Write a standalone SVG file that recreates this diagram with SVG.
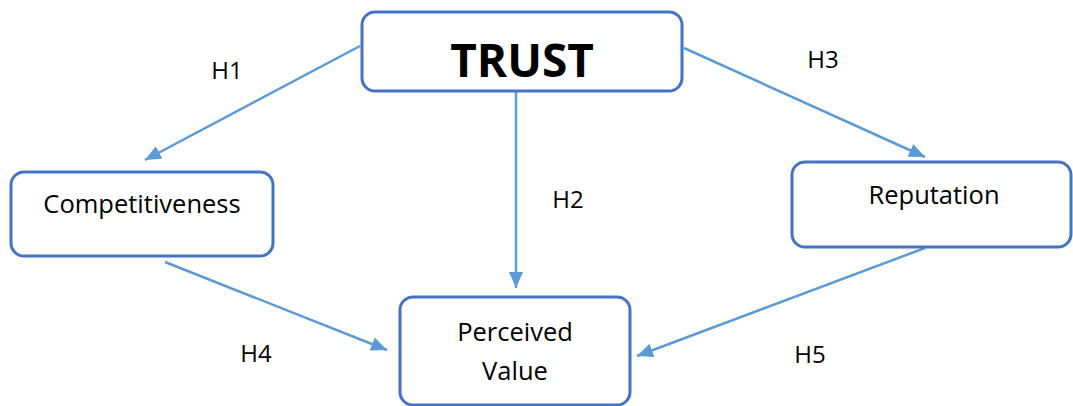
<svg xmlns="http://www.w3.org/2000/svg" width="1073" height="406" viewBox="0 0 1073 406">
<style>
.box{fill:#fff;stroke:#4472C4;stroke-width:3}
.lbl{font-family:"Open Sans","Liberation Sans",sans-serif;font-size:25.5px;fill:#000;text-anchor:middle}
.h{font-family:"Open Sans","Liberation Sans",sans-serif;font-size:24px;fill:#000;text-anchor:middle}
.conn{stroke:#5B9BD5;stroke-width:2.5;fill:none;marker-end:url(#ah)}
</style>
<defs>
<marker id="ah" markerUnits="userSpaceOnUse" markerWidth="18" markerHeight="16" refX="16" refY="7" orient="auto" viewBox="0 0 18 14">
<path d="M0,0 L16,7 L0,14 Z" fill="#5B9BD5"/>
</marker>
</defs>
<rect width="1073" height="406" fill="#fff"/>
<g id="connectors">
<line class="conn" x1="360" y1="46" x2="145" y2="160"/>
<line class="conn" x1="516" y1="92" x2="516" y2="288"/>
<line class="conn" x1="684" y1="48" x2="925" y2="157"/>
<line class="conn" x1="165" y1="262" x2="387" y2="350"/>
<line class="conn" x1="925" y1="248" x2="637" y2="356"/>
<text class="h" x="227" y="79">H1</text>
<text class="h" x="568" y="208">H2</text>
<text class="h" x="823" y="68">H3</text>
<text class="h" x="256" y="362">H4</text>
<text class="h" x="810" y="363">H5</text>
</g>
<g id="trust">
<rect class="box" x="362" y="12" width="320" height="79" rx="13"/>
<text x="522" y="77" font-family="'Open Sans','Liberation Sans',sans-serif" font-weight="bold" font-size="46" text-anchor="middle">TRUST</text>
</g>
<g id="competitiveness">
<rect class="box" x="11" y="172" width="262" height="84" rx="13"/>
<text class="lbl" x="142" y="213">Competitiveness</text>
</g>
<g id="reputation">
<rect class="box" x="792" y="162" width="279" height="85" rx="13"/>
<text class="lbl" x="934" y="204">Reputation</text>
</g>
<g id="perceived">
<rect class="box" x="400" y="297" width="230" height="108" rx="13"/>
<text class="lbl" x="515" y="341">Perceived</text>
<text class="lbl" x="515" y="380">Value</text>
</g>
</svg>
